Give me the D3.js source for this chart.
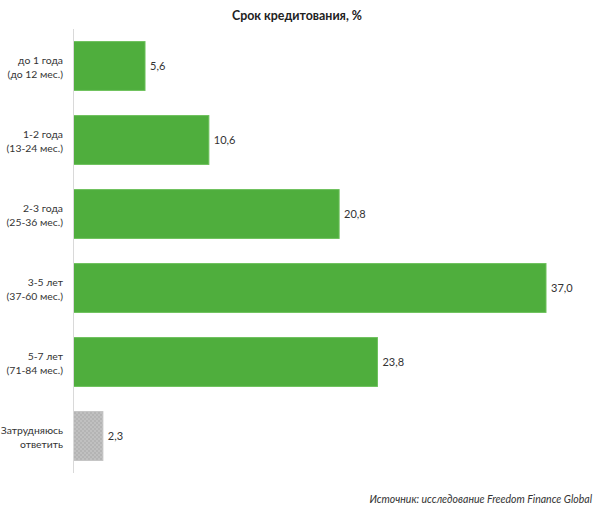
<!DOCTYPE html>
<html><head><meta charset="utf-8">
<script src="https://cdn.jsdelivr.net/npm/d3@7"></script>
<style>body{margin:0;background:#fff}svg{display:block}</style>
</head><body>
<script>
const categories = [
  ["до 1 года", "(до 12 мес.)"],
  ["1-2 года", "(13-24 мес.)"],
  ["2-3 года", "(25-36 мес.)"],
  ["3-5 лет", "(37-60 мес.)"],
  ["5-7 лет", "(71-84 мес.)"],
  ["Затрудняюсь", "ответить"]
];
const values = [5.6, 10.6, 20.8, 37.0, 23.8, 2.3];
const valueLabels = ["5,6", "10,6", "20,8", "37,0", "23,8", "2,3"];
const isNeutral = [false, false, false, false, false, true];
const title = "Срок кредитования, %";
const source = "Источник: исследование Freedom Finance Global";

const W = 600, H = 514;
const svg = d3.select("body").append("svg").attr("width", W).attr("height", H);
const font = "Lato, 'Open Sans', sans-serif";

const defs = svg.append("defs");
const pat = defs.append("pattern").attr("id", "dots").attr("patternUnits", "userSpaceOnUse")
  .attr("width", 4).attr("height", 4);
pat.append("rect").attr("width", 4).attr("height", 4).attr("fill", "#b4b4b4");
pat.append("circle").attr("cx", 1).attr("cy", 1).attr("r", 0.7).attr("fill", "#d6d6d6");
pat.append("circle").attr("cx", 3).attr("cy", 3).attr("r", 0.7).attr("fill", "#d6d6d6");

const x = d3.scaleLinear().domain([0, 37]).range([73.5, 546]);
const y = d3.scaleBand().domain(d3.range(categories.length)).range([29, 473]).paddingInner(0.34).paddingOuter(0.17);

svg.append("text").attr("x", 297).attr("y", 20).attr("text-anchor", "middle")
  .attr("font-family", font).attr("font-weight", "bold").attr("font-size", 12.4).attr("fill", "#222").text(title);

svg.selectAll("rect.bar").data(values).enter().append("rect").attr("class", "bar")
  .attr("x", x(0)).attr("y", (d, i) => y(i))
  .attr("width", d => x(d) - x(0)).attr("height", y.bandwidth())
  .attr("fill", (d, i) => isNeutral[i] ? "url(#dots)" : "#4fae3d")
  .attr("stroke", (d, i) => isNeutral[i] ? "#c4c4c4" : "#6cc05a").attr("stroke-width", 1);

svg.append("line").attr("x1", 73.5).attr("x2", 73.5).attr("y1", 29).attr("y2", 473)
  .attr("stroke", "#d9d9d9").attr("stroke-width", 1);

svg.selectAll("text.val").data(values).enter().append("text").attr("class", "val")
  .attr("x", d => x(d) + 5).attr("y", (d, i) => y(i) + y.bandwidth() / 2 + 4)
  .attr("font-family", font).attr("font-size", 11).attr("fill", "#333")
  .text((d, i) => valueLabels[i]);

const lab = svg.selectAll("text.cat").data(categories).enter().append("text").attr("class", "cat")
  .attr("text-anchor", "end").attr("font-family", font).attr("font-size", 10.4).attr("fill", "#333");
lab.each(function(d, i) {
  const cy = y(i) + y.bandwidth() / 2;
  d3.select(this).selectAll("tspan").data(d).enter().append("tspan")
    .attr("x", 63).attr("y", (t, j) => cy - 2 + j * 14).text(t => t);
});

svg.append("text").attr("x", 592).attr("y", 503).attr("text-anchor", "end")
  .attr("font-family", font).attr("font-style", "italic").attr("font-size", 10.5).attr("fill", "#333").text(source);
</script>
</body></html>
